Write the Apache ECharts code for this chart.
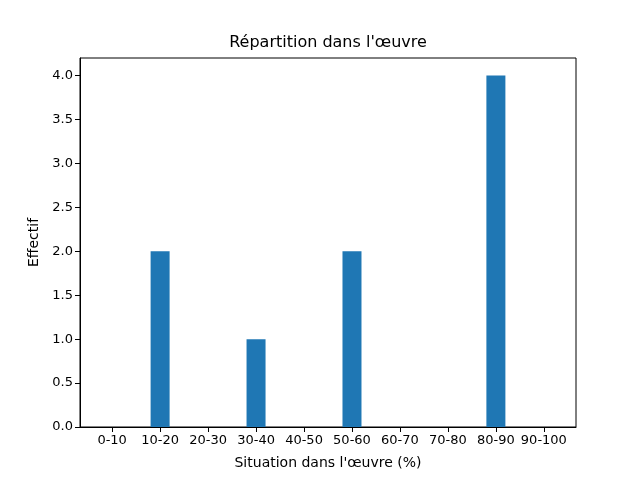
<!DOCTYPE html>
<html><head><meta charset="utf-8">
<script src="https://cdn.jsdelivr.net/npm/echarts@6/dist/echarts.min.js"></script>
<style>html,body{margin:0;padding:0;background:#fff}#c{width:640px;height:480px}</style>
</head><body><div id="c"></div>
<script>
const categories = ['0-10','10-20','20-30','30-40','40-50','50-60','60-70','70-80','80-90','90-100'];
const counts = [0, 2, 0, 1, 0, 2, 0, 0, 4, 0];
const yTicks = [0, 0.5, 1, 1.5, 2, 2.5, 3, 3.5, 4];
const titleText = "Répartition dans l'œuvre";
const xName = "Situation dans l'œuvre (%)";
const yName = "Effectif";

const chart = echarts.init(document.getElementById('c'));
const font = 'DejaVu Sans';
chart.setOption({
  animation: false,
  backgroundColor: '#fff',
  graphic: [{type:'text', x:328, y:43, style:{text:titleText, font:'16px "DejaVu Sans"', textAlign:'center', textVerticalAlign:'middle', fill:'#000'}}],
  grid: {left:80, right:64, top:58, bottom:53, show:true, borderColor:'#000', borderWidth:1, backgroundColor:'transparent'},
  xAxis: {
    type:'value', min:-0.67, max:9.67,
    name:xName, nameLocation:'middle', nameGap:29,
    nameTextStyle:{fontFamily:font, fontSize:14, color:'#000'},
    axisLine:{show:true, onZero:false, lineStyle:{color:'#000', width:1}},
    axisTick:{show:true, length:5, lineStyle:{color:'#000'}, customValues:categories.map((c,i)=>i)},
    axisLabel:{customValues:categories.map((c,i)=>i), formatter:v=>categories[Math.round(v)], fontFamily:font, fontSize:13, color:'#000', margin:7},
    splitLine:{show:false}
  },
  yAxis: {
    type:'value', min:0, max:4.2,
    name:yName, nameLocation:'middle', nameGap:33, nameRotate:90,
    nameTextStyle:{fontFamily:font, fontSize:14, color:'#000'},
    axisLine:{show:true, onZero:false, lineStyle:{color:'#000', width:1}},
    axisTick:{show:true, length:5, lineStyle:{color:'#000'}, customValues:yTicks},
    axisLabel:{customValues:yTicks, formatter:v=>v.toFixed(1), fontFamily:font, fontSize:13, color:'#000', margin:7},
    splitLine:{show:false}
  },
  series: [{
    type:'bar', barWidth:19,
    data: counts.map((v,i)=>[i,v]),
    itemStyle:{color:'#1f77b4'}
  }]
});
</script></body></html>
